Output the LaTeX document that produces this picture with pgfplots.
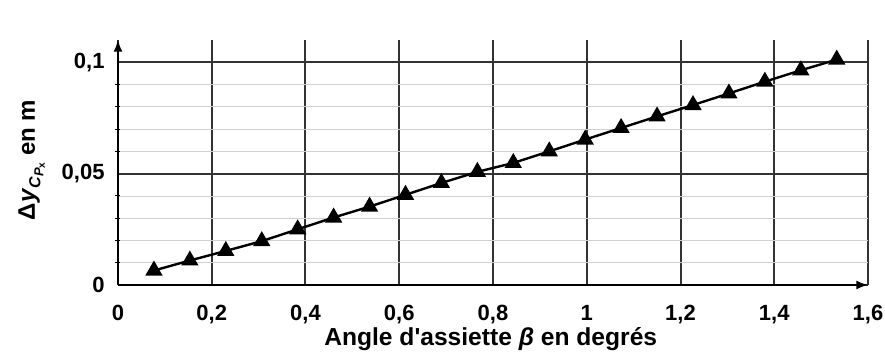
\documentclass[border=0pt]{standalone}
\usepackage{fontspec}
\setmainfont{Liberation Sans}
\usepackage{pgfplots}
\pgfplotsset{compat=1.18}
\begin{document}
\begin{tikzpicture}
\begin{axis}[
  scale only axis,
  width=375pt, height=122.5pt,
  xmin=0, xmax=1.6, ymin=0, ymax=0.11,
  axis x line=bottom, axis y line=left,
  x axis line style={-latex, line width=1pt},
  y axis line style={-latex, line width=1pt},
  xtick={0,0.2,...,1.6},
  ytick={0,0.05,0.1},
  minor y tick num=4,
  grid=both,
  major grid style={line width=1pt, black!80},
  minor grid style={line width=0.4pt, black!18},
  major tick length=0pt, minor tick length=2.5pt,
  tick style={black, line width=0.5pt},
  ticklabel style={font=\bfseries\fontsize{11}{13}\selectfont},
  /pgf/number format/.cd, use comma, fixed, assume math mode=true,
  /pgfplots/.cd,
  xticklabel style={anchor=base, yshift=-18pt},
  yticklabel style={anchor=east, xshift=-3.2pt},
  xlabel={Angle d\textquotesingle assiette \textit{β} en degrés},
  ylabel={Δ\textit{y}\raisebox{-0.45ex}{\fontsize{8}{9}\selectfont\textit{C}\raisebox{-0.35ex}{\fontsize{6.5}{7}\selectfont\textit{P}\raisebox{-0.2ex}{\fontsize{5}{6}\selectfont x}}} en m},
  xlabel style={font=\bfseries\fontsize{12.3}{14}\selectfont, at={(axis description cs:0.497,0)}, anchor=base, yshift=-30.5pt},
  ylabel style={font=\bfseries\fontsize{12}{14}\selectfont, at={(axis description cs:-0.111,0.51)}, anchor=base, rotate=0},
]
\addplot[black, line width=1.2pt, mark=triangle*, mark size=3.8pt] coordinates {
(0.0767,0.0065) (0.1533,0.011) (0.23,0.0153) (0.3067,0.0197) (0.3833,0.025)
(0.46,0.0303) (0.5367,0.0352) (0.6133,0.0405) (0.69,0.0458) (0.7667,0.0508)
(0.8433,0.0548) (0.92,0.0600) (0.9967,0.0653) (1.0733,0.0705) (1.15,0.0757)
(1.2267,0.0808) (1.3033,0.0860) (1.38,0.0913) (1.4567,0.0964) (1.5333,0.1012)
};
\end{axis}
\pgfresetboundingbox
\path[use as bounding box] (-59pt,-36.5pt) rectangle (383.5pt,142.5pt);
\end{tikzpicture}
\end{document}
